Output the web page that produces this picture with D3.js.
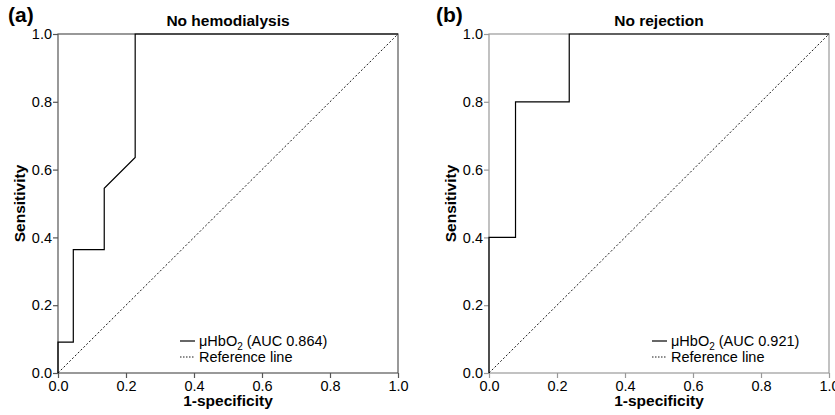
<!DOCTYPE html>
<html>
<head>
<meta charset="utf-8">
<script src="https://cdn.jsdelivr.net/npm/d3@7"></script>
<style>
  body { margin: 0; background: #fff; }
  svg text { font-family: "Liberation Sans", Arial, sans-serif; fill: #000; }
</style>
</head>
<body>
<div id="chart"></div>
<script>
// panel texts
const panelLabels = ['(a)', '(b)'];
const panelTitles = ['No hemodialysis', 'No rejection'];
const aucValues = [0.864, 0.921];

// ROC curve points (1-specificity, sensitivity)
const fprA = [0, 0, 0.045, 0.045, 0.136, 0.136, 0.227, 0.227, 1];
const tprA = [0, 0.091, 0.091, 0.364, 0.364, 0.545, 0.636, 1, 1];
const fprB = [0, 0, 0.078, 0.078, 0.236, 0.236, 1];
const tprB = [0, 0.4, 0.4, 0.8, 0.8, 1, 1];

const axisTicks = [0, 0.2, 0.4, 0.6, 0.8, 1.0];

const width = 835;
const height = 415;

// layout per panel
const panels = [
  {left: 58, right: 398, fpr: fprA, tpr: tprA, frame: '#555', legendX: 180, labelX: 8},
  {left: 489, right: 829, fpr: fprB, tpr: tprB, frame: '#999', legendX: 652, labelX: 436}
];
const plotTop = 34;
const plotBottom = 373;

let svg = d3.select('#chart')
  .append('svg')
  .attr('width', width)
  .attr('height', height);

panels.forEach(function(p, i) {
  let x = d3.scaleLinear().domain([0, 1]).range([p.left, p.right]);
  let y = d3.scaleLinear().domain([0, 1]).range([plotBottom, plotTop]);
  let g = svg.append('g');

  // frame
  g.append('rect')
    .attr('x', x(0)).attr('y', y(1))
    .attr('width', x(1) - x(0)).attr('height', y(0) - y(1))
    .attr('fill', 'none')
    .attr('stroke', p.frame)
    .attr('stroke-width', 1.2);

  // axes
  let xAxis = g.append('g')
    .attr('transform', `translate(0,${plotBottom})`)
    .call(d3.axisBottom(x).tickValues(axisTicks).tickFormat(d3.format('.1f')).tickSize(5).tickSizeOuter(0));
  let yAxis = g.append('g')
    .attr('transform', `translate(${p.left},0)`)
    .call(d3.axisLeft(y).tickValues(axisTicks).tickFormat(d3.format('.1f')).tickSize(5).tickSizeOuter(0));
  [xAxis, yAxis].forEach(function(a) {
    a.select('.domain').remove();
    a.selectAll('line').attr('stroke', p.frame).attr('stroke-width', 1.2);
    a.selectAll('text').style('font-size', '14.5px').attr('fill', '#000');
  });
  xAxis.selectAll('text').attr('dy', '0.72em').attr('y', 8);
  yAxis.selectAll('text').attr('x', -6);

  // reference line
  g.append('line')
    .attr('x1', x(0)).attr('y1', y(0))
    .attr('x2', x(1)).attr('y2', y(1))
    .attr('stroke', '#000')
    .attr('stroke-width', 0.9)
    .attr('stroke-dasharray', '2,2');

  // ROC curve
  let line = d3.line()
    .x(d => x(d[0]))
    .y(d => y(d[1]));
  g.append('path')
    .datum(d3.zip(p.fpr, p.tpr))
    .attr('d', line)
    .attr('fill', 'none')
    .attr('stroke', '#000')
    .attr('stroke-width', 1.2);

  // titles
  g.append('text')
    .attr('x', (p.left + p.right) / 2).attr('y', 26)
    .attr('text-anchor', 'middle')
    .style('font-size', '15.5px').style('font-weight', 'bold')
    .text(panelTitles[i]);
  g.append('text')
    .attr('x', p.labelX).attr('y', 22)
    .style('font-size', '21px').style('font-weight', 'bold')
    .text(panelLabels[i]);
  g.append('text')
    .attr('x', (p.left + p.right) / 2).attr('y', 406)
    .attr('text-anchor', 'middle')
    .style('font-size', '15.5px').style('font-weight', 'bold')
    .text('1-specificity');
  g.append('text')
    .attr('transform', `translate(${p.left - 33},${(plotTop + plotBottom) / 2}) rotate(-90)`)
    .attr('text-anchor', 'middle')
    .style('font-size', '15.5px').style('font-weight', 'bold')
    .text('Sensitivity');

  // legend
  let lg = g.append('g').attr('transform', `translate(${p.legendX},341)`);
  lg.append('line')
    .attr('x1', 0).attr('x2', 15).attr('y1', 0).attr('y2', 0)
    .attr('stroke', '#000').attr('stroke-width', 1.2);
  let t = lg.append('text').attr('x', 19).attr('y', 5).style('font-size', '14.5px');
  t.append('tspan').text('μHbO');
  t.append('tspan').attr('dy', 4).style('font-size', '10px').text('2');
  t.append('tspan').attr('dy', -4).text(` (AUC ${aucValues[i].toFixed(3)})`);
  lg.append('line')
    .attr('x1', 0).attr('x2', 15).attr('y1', 16).attr('y2', 16)
    .attr('stroke', '#000').attr('stroke-width', 0.9)
    .attr('stroke-dasharray', '1.5,1.5');
  lg.append('text').attr('x', 19).attr('y', 21).style('font-size', '14.5px')
    .text('Reference line');
});
</script>
</body>
</html>
